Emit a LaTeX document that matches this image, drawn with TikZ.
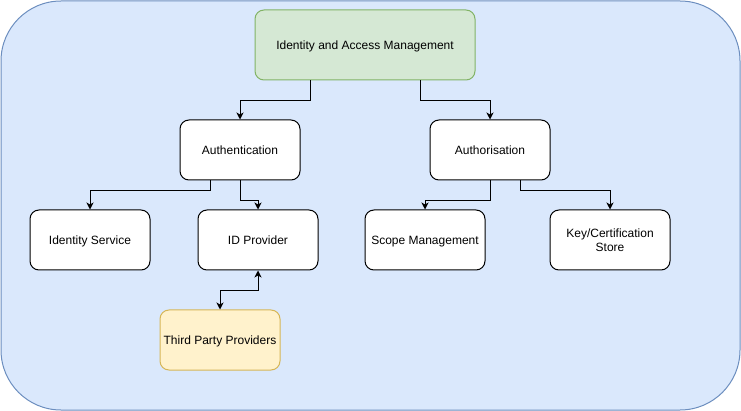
\documentclass[tikz,border=0pt]{standalone}
\usepackage{fontspec}
\setmainfont{Liberation Sans}
\usetikzlibrary{positioning,calc,arrows.meta}
\definecolor{bgblue}{HTML}{DAE8FC}
\definecolor{bgbluedraw}{HTML}{6C8EBF}
\definecolor{topgreen}{HTML}{D5E8D4}
\definecolor{topgreendraw}{HTML}{82B366}
\definecolor{extyellow}{HTML}{FFF2CC}
\definecolor{extyellowdraw}{HTML}{D6B656}
\tikzset{
	box/.style={draw=black,fill=white,rounded corners=9pt,line width=1pt,minimum width=120pt,minimum height=60pt,align=center,text height=8.6pt,text depth=0pt,font=\fontsize{12pt}{14pt}\selectfont},
	link/.style={draw=black,line width=1pt,-{Stealth[length=7pt,width=7pt,inset=2pt]}},
	duallink/.style={draw=black,line width=1pt,{Stealth[length=7pt,width=7pt,inset=2pt]}-{Stealth[length=7pt,width=7pt,inset=2pt]}}
}
\begin{document}
\begin{tikzpicture}[x=1pt,y=-1pt]
		
		\useasboundingbox (0,0) rectangle (741,411);
		\draw[fill=bgblue,draw=bgbluedraw,line width=1pt,rounded corners=60pt] (1,1) rectangle (740,410);
		
		\node[box,fill=topgreen,draw=topgreendraw,minimum width=220pt,minimum height=70pt] (IAM) at (365,45) {Identity and Access Management};
		
		\node[box] (Authn) at (240,150) {Authentication};
		\node[box] (Authz) at (490,150) {Authorisation};
		
		\node[box] (IdService) at (90,240) {Identity Service};
		\node[box] (IdProvider) at (258,240) {ID Provider};
		\node[box] (Scope) at (425,240) {Scope Management};
		\node[box,text height=22.6pt] (KeyStore) at (610,240) {Key/Certification\\Store};
		
		\node[box,fill=extyellow,draw=extyellowdraw] (ThirdParty) at (220,340) {Third Party Providers};
		
		%\draw[link] (IAM) -- (Authn);
		\draw[link] ($(IAM.south)+(-55,0)$) -- ++(0,20) -| (Authn.north);
		\draw[link] ($(IAM.south)+(55,0)$) -- ++(0,20) -| (Authz.north);
		
		\draw[link] ($(Authn.south)+(-30,0)$) -- ++(0,10) -| (IdService.north);
		\draw[link] (Authn.south) -- ++(0,20) -| (IdProvider.north);
		\draw[link] (Authz.south) -- ++(0,20) -| (Scope.north);
		\draw[link] ($(Authz.south)+(30,0)$) -- ++(0,10) -| (KeyStore.north);
		
		\draw[duallink] (IdProvider.south) -- ++(0,20) -| (ThirdParty.north);
		
		\end{tikzpicture}
\end{document}
